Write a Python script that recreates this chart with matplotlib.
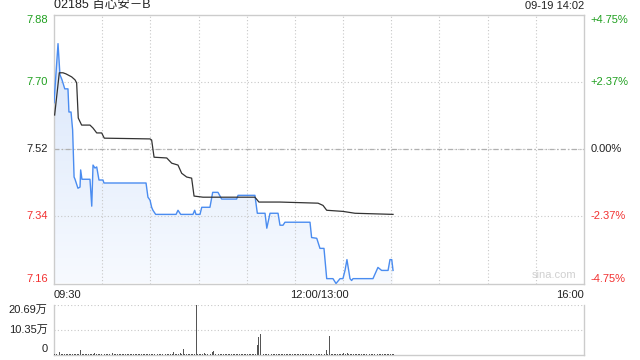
import numpy as np
import matplotlib
matplotlib.use('Agg')
import matplotlib.pyplot as plt

plt.rcParams['font.family'] = ['Liberation Sans', 'Noto Sans CJK SC', 'DejaVu Sans']

# minutes after 09:30 (lunch break removed), price
price_min = [0, 2.5, 3.7, 5.0, 6.7, 8.7, 9.3, 10.6, 11.6, 12.5, 13.1, 14.9, 16.2, 16.6, 17.4, 22.4,
             23.5, 24.3, 25.5, 26.6, 28.0, 30.5, 31.1, 57.3, 58.5, 59.8, 60.8, 61.6, 63.3, 76.0,
             77.2, 78.9, 86.5, 87.6, 88.4, 90.9, 92.0, 97.1, 98.8, 102.1, 104.4, 113.7, 114.6,
             125.1, 126.6, 131.4, 132.5, 134.5, 139.5, 140.7, 142.6, 143.8, 159.4, 160.4, 163.6,
             165.6, 168.1, 169.8, 173.7, 175.6, 178.1, 179.9, 181.2, 182.4, 184.3, 185.3, 186.2,
             198.6, 201.7, 204.0, 208.0, 209.2, 210.3, 211.1]
price = [7.644, 7.802, 7.719, 7.705, 7.681, 7.681, 7.619, 7.619, 7.571, 7.445, 7.439, 7.415, 7.418,
         7.464, 7.439, 7.439, 7.367, 7.477, 7.469, 7.472, 7.437, 7.437, 7.429, 7.429, 7.391, 7.383,
         7.364, 7.356, 7.345, 7.345, 7.356, 7.345, 7.345, 7.356, 7.345, 7.345, 7.364, 7.364, 7.404,
         7.404, 7.386, 7.386, 7.396, 7.396, 7.348, 7.348, 7.308, 7.348, 7.348, 7.316, 7.316, 7.324,
         7.324, 7.283, 7.281, 7.254, 7.254, 7.173, 7.173, 7.160, 7.173, 7.173, 7.195, 7.224, 7.173,
         7.168, 7.173, 7.173, 7.203, 7.195, 7.195, 7.224, 7.224, 7.195]

avg_min = [0.4, 3.3, 5.6, 7.5, 11.0, 13.1, 14.1, 15.1, 17.2, 22.4, 24.3, 26.6, 29.7, 31.3, 59.8,
           60.8, 62.3, 70.2, 73.3, 77.2, 79.5, 82.6, 85.7, 87.2, 92.8, 125.1, 127.6, 140.7, 164.4,
           167.5, 169.8, 179.9, 187.4, 211.1]
avg_price = [7.611, 7.724, 7.724, 7.721, 7.713, 7.705, 7.697, 7.603, 7.584, 7.584, 7.576, 7.563,
             7.563, 7.549, 7.547, 7.544, 7.498, 7.496, 7.482, 7.477, 7.455, 7.445, 7.442, 7.394,
             7.391, 7.391, 7.378, 7.378, 7.375, 7.369, 7.356, 7.353, 7.348, 7.345]

# volume (万) per minute: small background trades, one row per half hour
vol_rows = [
    [0.4, 0.3, 0.5, 0.9, 0.3, 0.2, 0.3, 0.2, 0.4, 0.3, 0.2, 0.3, 0.2, 0.3, 0.4, 0.3, 0.3, 0.2,
     0.3, 0.4, 0.2, 0.3, 0.2, 0.3, 0.2, 0.5, 0.3, 0.2, 0.3, 0.2],
    [0.4, 0.3, 0.2, 0.3, 0.2, 0.3, 0.5, 0.2, 0.3, 0.2, 0.3, 0.2, 0.3, 0.4, 0.2, 0.3, 0.2, 0.3,
     0.2, 0.3, 0.2, 0.3, 0.2, 0.3, 0.2, 0.3, 0.4, 0.2, 0.3, 0.2],
    [0.3, 0.2, 0.3, 0.3, 0.2, 0.3, 0.2, 0.3, 0.2, 0.3, 0.4, 0.2, 0.3, 0.2, 0.3, 0.2, 0.3, 0.2,
     0.6, 0.3, 0.3, 0.4, 0.2, 0.3, 0.2, 0.3, 0.2, 0.3, 0.2, 0.4],
    [0.3, 0.2, 0.3, 0.5, 0.3, 0.4, 0.6, 0.3, 1.2, 0.4, 0.3, 0.2, 0.3, 0.2, 0.3, 0.2, 0.3, 0.2,
     0.3, 0.2, 0.3, 0.2, 0.3, 0.2, 0.3, 0.2, 0.3, 0.2, 0.3, 0.2],
    [0.3, 0.2, 0.3, 0.2, 0.3, 0.3, 0.3, 0.2, 0.3, 0.5, 0.3, 0.2, 0.4, 0.2, 0.3, 0.2, 0.3, 0.2,
     0.3, 0.2, 0.3, 0.2, 0.3, 0.2, 0.3, 0.2, 0.3, 0.2, 0.3, 0.2],
    [0.3, 0.2, 0.3, 0.2, 0.3, 0.2, 0.3, 0.2, 0.3, 0.2, 0.3, 0.2, 0.3, 0.2, 0.3, 0.2, 0.3, 0.2,
     0.3, 0.3, 0.2, 0.4, 0.3, 0.2, 0.3, 0.2, 0.3, 0.2, 0.3, 0.4],
    [0.5, 0.3, 0.6, 0.4, 0.3, 0.2, 0.3, 0.2, 0.3, 0.4, 0.3, 0.2, 0.3, 0.2, 0.3, 0.2, 0.3, 0.2,
     0.3, 0.2, 0.3, 0.2, 0.3, 0.2, 0.3, 0.2, 0.3, 0.2, 0.3, 0.2],
    [0.3, 0.2],
]
spike_min = [3, 16, 63, 74, 80, 88, 99, 126, 127, 128, 169, 171]
spike_vol = [0.9, 1.9, 2.3, 1.0, 2.3, 20.69, 1.5, 4.0, 7.4, 8.4, 1.9, 7.9]

left_ticks = [7.16, 7.34, 7.52, 7.70, 7.88]
right_labels = ['-4.75%', '-2.37%', '0.00%', '+2.37%', '+4.75%']
tick_colors = ['#f23030', '#f23030', '#222222', '#20a020', '#20a020']
vol_ticks = [0, 10.35, 20.69]
vol_labels = ['0', '10.35万', '20.69万']

vol = [v for row in vol_rows for v in row]
for m, v in zip(spike_min, spike_vol):
    vol[m] = v

fig = plt.figure(figsize=(6.4, 3.6), dpi=100)
ax = fig.add_axes([54/640, 76.5/360, 530/640, 269/360])
axv = fig.add_axes([54/640, 5.5/360, 530/640, 49.5/360])

grid_kw = dict(color='#c8c8c8', lw=0.8, linestyle=(0, (1, 2)))
ax.set_xlim(0, 330)
ax.set_ylim(7.16, 7.88)
for t in range(30, 330, 30):
    ax.axvline(t, **grid_kw)
for v in left_ticks[1:-1]:
    ax.axhline(v, **grid_kw)
ax.axhline(7.52, color='#b0b0b0', lw=0.9, linestyle=(0, (4, 2, 1, 2)))

# gradient fill under the price line
poly = ax.fill_between(price_min, price, 7.16, color='none')
grad = np.linspace(0.0, 1.0, 256).reshape(-1, 1)
cm = matplotlib.colors.LinearSegmentedColormap.from_list('g', ['#f7faff', '#d6e4fa'])
im = ax.imshow(grad, cmap=cm, aspect='auto', origin='lower',
               extent=[0, 330, 7.16, 7.88], zorder=1)
im.set_clip_path(poly.get_paths()[0], transform=ax.transData)

ax.plot(price_min, price, color='#4a8cf0', lw=1.0, zorder=3)
ax.plot(avg_min, avg_price, color='#333333', lw=0.9, zorder=3)

ax.set_xticks([])
ax.set_yticks([])
for s in ax.spines.values():
    s.set_color('#cccccc')
    s.set_linewidth(1.0)

for v, c in zip(left_ticks, tick_colors):
    va = 'center'
    if v == 7.88:
        va = 'top'
    if v == 7.16:
        va = 'bottom'
    ax.text(-0.012, (v - 7.16) / 0.72, f'{v:.2f}', transform=ax.transAxes, ha='right', va=va,
            fontsize=8, color=c)
for v, lab, c in zip(left_ticks, right_labels, tick_colors):
    va = 'center'
    if v == 7.88:
        va = 'top'
    if v == 7.16:
        va = 'bottom'
    ax.text(1.012, (v - 7.16) / 0.72, lab, transform=ax.transAxes, ha='left', va=va,
            fontsize=8, color=c)

ax.text(0, 1.012, '02185 百心安－B', transform=ax.transAxes, ha='left', va='bottom', fontsize=9,
        color='#222222')
ax.text(1, 1.012, '09-19 14:02', transform=ax.transAxes, ha='right', va='bottom', fontsize=8,
        color='#222222')
ax.text(0.985, 0.012, 'sina.com', transform=ax.transAxes, ha='right', va='bottom', fontsize=8,
        color='#d0d0d0')
ax.text(0, -0.025, '09:30', transform=ax.transAxes, ha='left', va='top', fontsize=8, color='#222222')
ax.text(0.5, -0.025, '12:00/13:00', transform=ax.transAxes, ha='center', va='top', fontsize=8,
        color='#222222')
ax.text(1, -0.025, '16:00', transform=ax.transAxes, ha='right', va='top', fontsize=8, color='#222222')

# volume panel
axv.set_xlim(0, 330)
axv.set_ylim(0, 20.69)
axv.bar(np.arange(len(vol)) + 0.5, vol, width=0.6, color='#555555', zorder=3)
for v in vol_ticks[1:]:
    axv.axhline(v, **grid_kw)
axv.set_xticks([])
axv.set_yticks([])
for s in axv.spines.values():
    s.set_color('#cccccc')
    s.set_linewidth(1.0)
axv.spines['top'].set_visible(False)
for v, lab in zip(vol_ticks, vol_labels):
    va = 'center'
    if v == 20.69:
        va = 'top'
    if v == 0:
        va = 'bottom'
    axv.text(-0.012, v / 20.69, lab, transform=axv.transAxes, ha='right', va=va, fontsize=8,
             color='#222222')

fig.savefig('out.png', dpi=100)
